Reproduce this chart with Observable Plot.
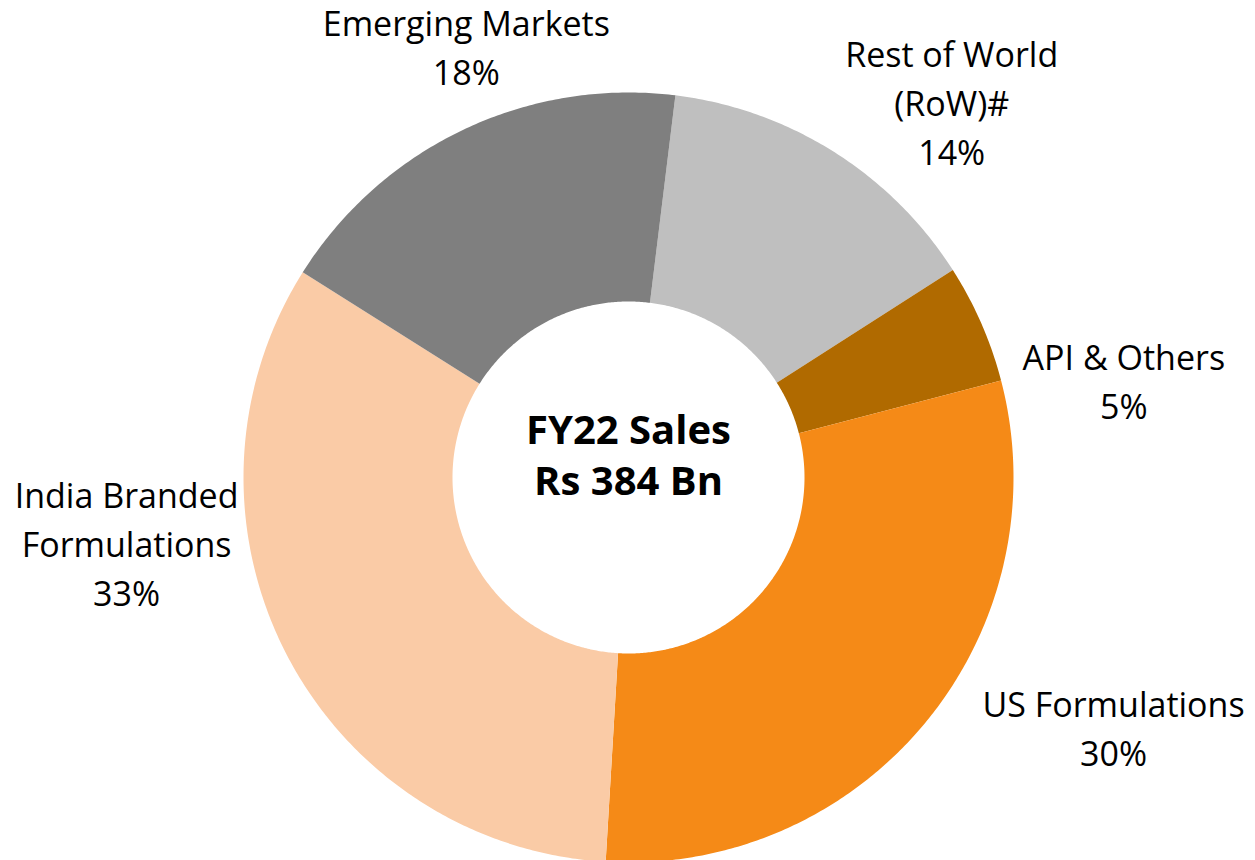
<!DOCTYPE html>
<html>
<head>
<meta charset="utf-8">
<script src="https://cdn.jsdelivr.net/npm/d3@7"></script>
<script src="https://cdn.jsdelivr.net/npm/@observablehq/plot@0.6"></script>
<style>
  html, body { margin: 0; padding: 0; background: #ffffff; }
  #chart { width: 1255px; height: 860px; }
</style>
</head>
<body>
<div id="chart"></div>
<script>
// ---- data ----
const categories = ["Rest of World\n(RoW)#", "API & Others", "US Formulations", "India Branded\nFormulations", "Emerging Markets"];
const shares = [14, 5, 30, 33, 18];
const sliceColors = ["#BFBFBF", "#B06A00", "#F58A17", "#FACBA6", "#7F7F7F"];
const centerTitle = "FY22 Sales\nRs 384 Bn";

// ---- layout ----
const W = 1255, H = 860;
const CX = 628, CY = 477, R = 385;      // donut centre and outer radius (px)
const HOLE = 176 / 385;                  // inner radius as fraction of outer
const START_DEG = 7;                     // rotation of first slice
const LABEL_R = 1.2;                     // label anchor radius (fraction of R)
const labelNudge = [[77, 14], [72, 86], [128, -45], [-91, -147], [36, -15]]; // px nudges
const FONT = "'Open Sans', 'Noto Sans', sans-serif";

const start = START_DEG * Math.PI / 180;
const arcs = d3.pie().sort(null).startAngle(start).endAngle(start + 2 * Math.PI)(shares);

function ring(a0, a1, r0, r1) {
  const n = Math.max(2, Math.ceil((a1 - a0) / (Math.PI / 360)));
  const pts = [];
  for (let i = 0; i <= n; i++) {
    const a = a0 + (a1 - a0) * i / n;
    pts.push([r1 * Math.sin(a), r1 * Math.cos(a)]);
  }
  for (let i = n; i >= 0; i--) {
    const a = a0 + (a1 - a0) * i / n;
    pts.push([r0 * Math.sin(a), r0 * Math.cos(a)]);
  }
  pts.push(pts[0]);
  return pts;
}

const slices = arcs.map((a, i) => ({
  type: "Feature",
  properties: { name: categories[i], color: sliceColors[i] },
  geometry: { type: "Polygon", coordinates: [ring(a.startAngle, a.endAngle, HOLE, 1)] }
}));

const labels = arcs.map((a, i) => {
  const mid = (a.startAngle + a.endAngle) / 2;
  return {
    text: categories[i] + "\n" + shares[i] + "%",
    x: LABEL_R * Math.sin(mid) + labelNudge[i][0] / R,
    y: LABEL_R * Math.cos(mid) - labelNudge[i][1] / R
  };
});

const projection = d3.geoIdentity().reflectY(true).scale(R).translate([CX, CY]);

const chart = Plot.plot({
  width: W,
  height: H,
  margin: 0,
  projection,
  style: { background: "#ffffff", fontFamily: FONT },
  marks: [
    Plot.geo(slices, { fill: d => d.properties.color, stroke: "none" }),
    Plot.text(labels, {
      x: "x", y: "y", text: "text",
      textAnchor: "middle", lineAnchor: "middle",
      fontSize: 34, lineHeight: 1.44, fill: "#000000", fontFamily: FONT
    }),
    Plot.text([{ text: centerTitle, x: 0, y: 0 }], {
      x: "x", y: "y", text: "text", dy: -24,
      textAnchor: "middle", lineAnchor: "middle",
      fontSize: 40, fontWeight: "bold", lineHeight: 1.28, fill: "#000000", fontFamily: FONT
    })
  ]
});

document.getElementById("chart").appendChild(chart);
</script>
</body>
</html>
